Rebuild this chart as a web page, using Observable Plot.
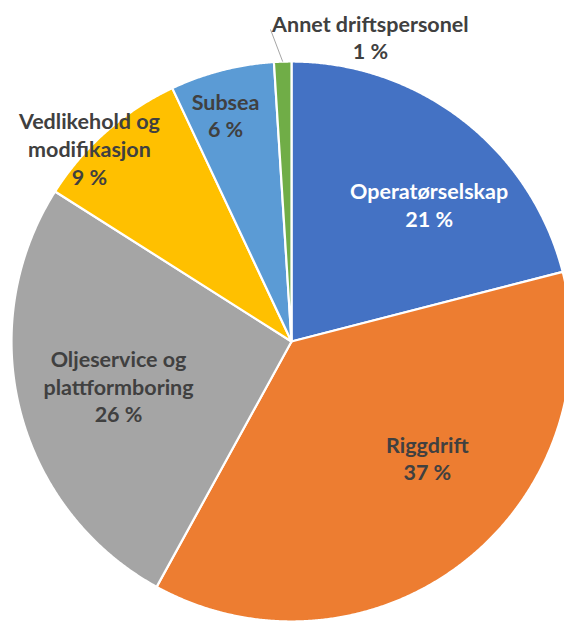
<!DOCTYPE html>
<html>
<head>
<meta charset="utf-8">
<script src="https://cdn.jsdelivr.net/npm/d3@7"></script>
<script src="https://cdn.jsdelivr.net/npm/@observablehq/plot@0.6"></script>
<style>
  html, body { margin: 0; padding: 0; background: #fff; }
  #chart { width: 564px; height: 621px; overflow: hidden; }
  #chart svg { display: block; }
</style>
</head>
<body>
<div id="chart"></div>
<script>
// ---- data ----
const categories = ["Operatørselskap", "Riggdrift", "Oljeservice og plattformboring", "Vedlikehold og modifikasjon", "Subsea", "Annet driftspersonel"];
const values = [21, 37, 26, 9, 6, 1];
const labelTexts = ["Operatørselskap\n21 %", "Riggdrift\n37 %", "Oljeservice og\nplattformboring\n26 %", "Vedlikehold og\nmodifikasjon\n9 %", "Subsea\n6 %", "Annet driftspersonel\n1 %"];
const colors = ["#4472C4", "#ED7D31", "#A5A5A5", "#FFC000", "#5B9BD5", "#70AD47"];

// ---- layout ----
const W = 564, H = 621;
const cx = 291, cy = 341, R = 280;
// label placement: [angle offset from slice middle (deg), radius fraction]
const labelPlacement = [[7.3, 0.694], [-11.7, 0.638], [0.1, 0.6375], [-4.8, 1.0], [-1.8, 0.844], [16.3, 1.125]];

const rows = categories.map((name, i) => ({name, value: values[i], label: labelTexts[i], i}));
const arcs = d3.pie().sort(null).value(d => d.value)(rows);
const polar = (a, r) => [r * Math.sin(a), r * Math.cos(a)];

const pts = [];
for (const a of arcs) {
  pts.push({name: a.data.name, x: 0, y: 0});
  const n = Math.max(2, Math.ceil((a.endAngle - a.startAngle) / 0.005));
  for (let k = 0; k <= n; k++) {
    const t = a.startAngle + (a.endAngle - a.startAngle) * k / n;
    const [x, y] = polar(t, 1);
    pts.push({name: a.data.name, x, y});
  }
}

const labels = arcs.map(a => {
  const i = a.data.i;
  const mid = (a.startAngle + a.endAngle) / 2 + labelPlacement[i][0] * Math.PI / 180;
  const [x, y] = polar(mid, labelPlacement[i][1]);
  return {x, y, text: a.data.label, i};
});

// leader line for the smallest slice
const last = arcs[arcs.length - 1];
const [lx1, ly1] = polar((last.startAngle + last.endAngle) / 2, 1.0);
const lead = [{x1: lx1, y1: ly1, x2: (270 - cx) / R, y2: (cy - 29) / R}];

const font = "Lato, 'Open Sans', sans-serif";
const textOpts = {x: "x", y: "y", text: "text", fontSize: 21.5, fontWeight: "bold", fontFamily: font, lineHeight: 1.3};
const chart = Plot.plot({
  width: W, height: H,
  margin: 0,
  x: {domain: [(0 - cx) / R, (W - cx) / R], axis: null},
  y: {domain: [(cy - H) / R, cy / R], axis: null},
  color: {domain: categories, range: colors},
  style: {background: "#fff"},
  marks: [
    Plot.line(pts, {x: "x", y: "y", z: "name", fill: "name", stroke: "#fff", strokeWidth: 2.2, curve: "linear-closed", strokeLinejoin: "round"}),
    Plot.link(lead, {x1: "x1", y1: "y1", x2: "x2", y2: "y2", stroke: "#a6a6a6", strokeWidth: 1}),
    Plot.text(labels.filter(d => d.i === 0), {...textOpts, fill: "#ffffff"}),
    Plot.text(labels.filter(d => d.i !== 0), {...textOpts, fill: "#404040"})
  ]
});
document.getElementById("chart").appendChild(chart);
</script>
</body>
</html>
